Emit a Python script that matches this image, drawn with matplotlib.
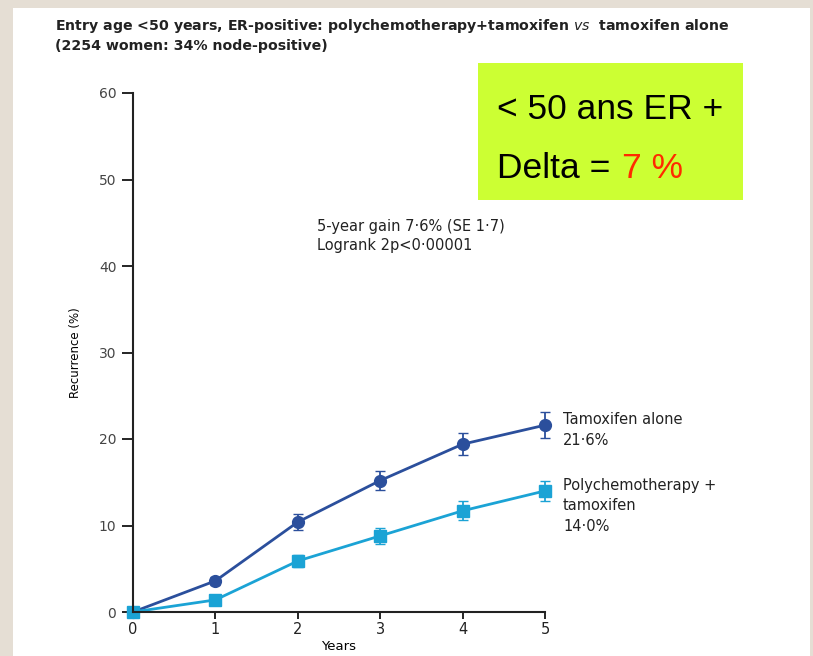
import matplotlib
matplotlib.use("Agg")
import matplotlib.pyplot as plt
from matplotlib.patches import Rectangle

# data
years = [0, 1, 2, 3, 4, 5]
tam_alone = [0, 3.6, 10.4, 15.2, 19.4, 21.6]
tam_alone_err = [0, 0.5, 0.9, 1.1, 1.3, 1.5]
poly_tam = [0, 1.4, 5.9, 8.8, 11.7, 14.0]
poly_tam_err = [0, 0.3, 0.7, 0.9, 1.1, 1.2]
yticks = [0, 10, 20, 30, 40, 50, 60]

W, H = 813, 656
fig = plt.figure(figsize=(W / 100, H / 100), dpi=100)
fig.patch.set_facecolor('#e5ded4')
fig.patches.append(Rectangle((13 / W, 0), (810 - 13) / W, (H - 8) / H,
                             transform=fig.transFigure, facecolor='white',
                             edgecolor='none', zorder=-5))

plt.rcParams['font.family'] = ['DejaVu Sans']
small = dict(fontsize=10.5, color='#222222')

ax = fig.add_axes([133 / W, (H - 612) / H, 412 / W, (612 - 93) / H])
ax.set_facecolor('none')

dark = '#2b4f9c'
light = '#1ba3d5'
ax.errorbar(years, tam_alone, yerr=tam_alone_err, color=dark, marker='o',
            markersize=8.5, lw=2, capsize=3.5, elinewidth=1.3, clip_on=False)
ax.errorbar(years, poly_tam, yerr=poly_tam_err, color=light, marker='s',
            markersize=8, lw=2, capsize=3.5, elinewidth=1.3, clip_on=False)

ax.set_xlim(0, 5)
ax.set_ylim(0, 60)
ax.set_yticks(yticks)
ax.set_xticks(years)
for s in ['top', 'right']:
    ax.spines[s].set_visible(False)
for s in ['left', 'bottom']:
    ax.spines[s].set_linewidth(1.5)
    ax.spines[s].set_color('#222222')
ax.tick_params(axis='y', direction='out', length=8, width=1.2, labelsize=10,
               labelcolor='#444444', pad=4)
ax.tick_params(axis='x', direction='out', length=5, width=1.2, labelsize=10.5,
               labelcolor='#222222', pad=2)
ax.set_xlabel('Years', fontsize=9.5, labelpad=2)
ax.set_ylabel('Recurrence (%)', fontsize=8.5, labelpad=12)

# titles
fig.text(55 / W, 1 - 26 / H, 'Entry age <50 years, ER-positive: polychemotherapy+tamoxifen $vs$  tamoxifen alone',
         fontsize=10.2, fontweight='bold', va='center', color='#222222')
fig.text(55 / W, 1 - 46 / H, '(2254 women: 34% node-positive)',
         fontsize=10.2, fontweight='bold', va='center', color='#222222')

fig.text(317 / W, 1 - 236 / H, '5-year gain 7·6% (SE 1·7)\nLogrank 2p<0·00001',
         va='center', linespacing=1.3, **small)

fig.text(563 / W, 1 - 430 / H, 'Tamoxifen alone\n21·6%', va='center',
         linespacing=1.45, **small)
fig.text(563 / W, 1 - 506 / H, 'Polychemotherapy +\ntamoxifen\n14·0%', va='center',
         linespacing=1.45, **small)

# highlight box
fig.patches.append(Rectangle((478 / W, 1 - 200 / H), (743 - 478) / W, (200 - 63) / H,
                             transform=fig.transFigure, facecolor='#ccff33',
                             edgecolor='none', zorder=1))
box_font = ['Liberation Sans Narrow', 'Liberation Sans', 'DejaVu Sans']
fig.text(497 / W, 1 - 119 / H, '< 50 ans ER +', fontsize=25.5, family=box_font,
         va='baseline', color='black')
fig.text(497 / W, 1 - 178 / H, 'Delta =', fontsize=25.5, family=box_font,
         va='baseline', color='black')
fig.text(622 / W, 1 - 178 / H, '7 %', fontsize=25.5, family=box_font,
         va='baseline', color='#ff2a00')

fig.savefig('out.png', dpi=100, facecolor=fig.get_facecolor())
